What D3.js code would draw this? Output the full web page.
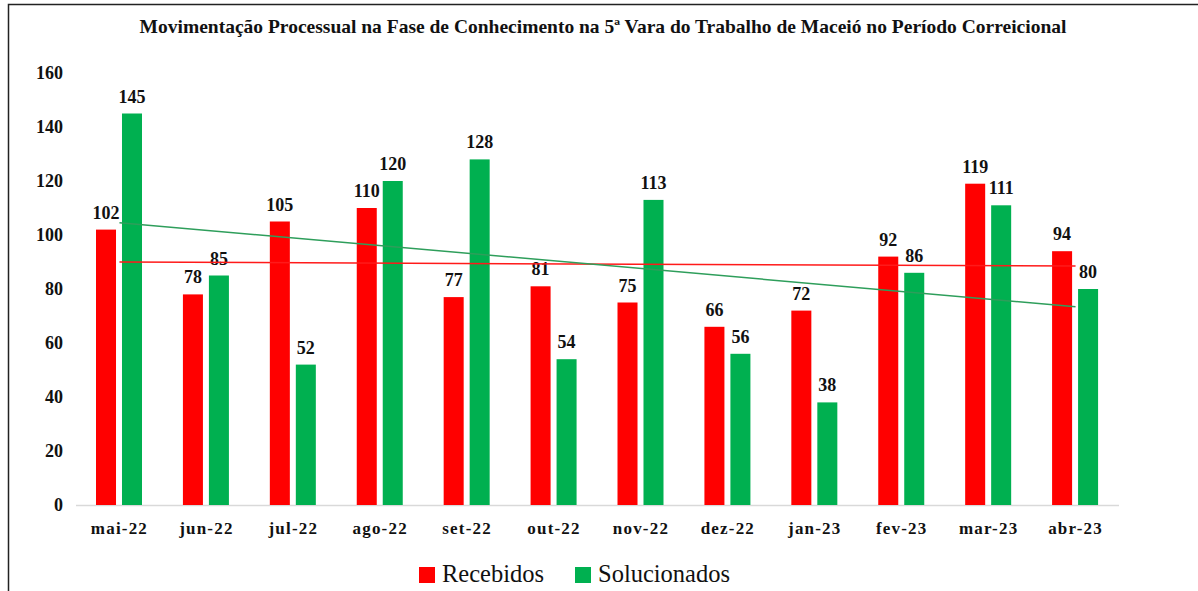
<!DOCTYPE html>
<html>
<head>
<meta charset="utf-8">
<script src="https://cdn.jsdelivr.net/npm/d3@7"></script>
<style>
  body { margin: 0; background: #fff; }
  svg { display: block; }
  svg text { font-family: "Liberation Serif", "Times New Roman", Times, "DejaVu Serif", serif; }
</style>
</head>
<body>
<div id="wrapper"></div>
<script>
const months = ["mai-22","jun-22","jul-22","ago-22","set-22","out-22","nov-22","dez-22","jan-23","fev-23","mar-23","abr-23"]
const recebidos = [102, 78, 105, 110, 77, 81, 75, 66, 72, 92, 119, 94]
const solucionados = [145, 85, 52, 120, 128, 54, 113, 56, 38, 86, 111, 80]
const seriesNames = ["Recebidos", "Solucionados"]
const seriesColors = ["#ff0000", "#00b050"]
const trendColors = ["#ff1a1a", "#2e9e5b"]
const yTicks = [0, 20, 40, 60, 80, 100, 120, 140, 160]

function drawChart() {
  const dimensions = {
    width: 1198,
    height: 591,
    margin: { top: 73, right: 79, bottom: 86, left: 76 },
  }
  dimensions.boundedWidth = dimensions.width - dimensions.margin.left - dimensions.margin.right
  dimensions.boundedHeight = dimensions.height - dimensions.margin.top - dimensions.margin.bottom

  const wrapper = d3.select("#wrapper")
    .append("svg")
      .attr("width", dimensions.width)
      .attr("height", dimensions.height)

  // frame (only left and top edges show in the picture)
  wrapper.append("rect")
    .attr("x", 8.5)
    .attr("y", 4.5)
    .attr("width", 1300)
    .attr("height", 700)
    .attr("fill", "none")
    .attr("stroke", "#222")
    .attr("stroke-width", 1.5)

  wrapper.append("text")
    .attr("x", 603)
    .attr("y", 33)
    .attr("text-anchor", "middle")
    .attr("font-weight", "bold")
    .attr("font-size", "19.5px")
    .attr("fill", "#111")
    .text("Movimentação Processual na Fase de Conhecimento na 5ª Vara do Trabalho de Maceió no Período Correicional")

  const bounds = wrapper.append("g")
    .attr("transform", `translate(${dimensions.margin.left},${dimensions.margin.top})`)

  const xScale = d3.scaleBand()
    .domain(months)
    .range([0, dimensions.boundedWidth])

  const xInner = d3.scaleBand()
    .domain(seriesNames)
    .range([20, 66])
    .paddingInner(0.23)

  const yScale = d3.scaleLinear()
    .domain([0, 160])
    .range([dimensions.boundedHeight, 0])

  // y tick labels
  bounds.append("g")
    .selectAll("text")
    .data(yTicks)
    .join("text")
      .attr("x", -13)
      .attr("y", d => yScale(d) + 5.5)
      .attr("text-anchor", "end")
      .attr("font-weight", "bold")
      .attr("font-size", "18px")
      .attr("fill", "#111")
      .text(d => d)

  // baseline
  bounds.append("line")
    .attr("x1", 0)
    .attr("x2", dimensions.boundedWidth)
    .attr("y1", yScale(0) + 0.5)
    .attr("y2", yScale(0) + 0.5)
    .attr("stroke", "#d9d9d9")
    .attr("stroke-width", 1.5)

  const table = months.map((m, i) => ({
    month: m,
    values: [recebidos[i], solucionados[i]],
  }))

  const groups = bounds.selectAll(".cat")
    .data(table)
    .join("g")
      .attr("class", "cat")
      .attr("transform", d => `translate(${xScale(d.month)},0)`)

  groups.selectAll("rect")
    .data(d => d.values.map((v, j) => ({ name: seriesNames[j], value: v, j })))
    .join("rect")
      .attr("x", d => xInner(d.name))
      .attr("y", d => yScale(d.value))
      .attr("width", xInner.bandwidth())
      .attr("height", d => yScale(0) - yScale(d.value))
      .attr("fill", d => seriesColors[d.j])

  // trend lines (least squares, as in Excel's linear trendline)
  const seriesData = [recebidos, solucionados]
  seriesData.forEach((vals, s) => {
    const xs = vals.map((v, i) => i + 1)
    const mx = d3.mean(xs)
    const my = d3.mean(vals)
    const slope = d3.sum(vals, (v, i) => (xs[i] - mx) * (v - my)) / d3.sum(xs, x => (x - mx) ** 2)
    const fit = x => my + slope * (x - mx)
    const first = 1, last = vals.length
    bounds.append("line")
      .attr("x1", xScale(months[0]) + xScale.bandwidth() / 2)
      .attr("x2", xScale(months[last - 1]) + xScale.bandwidth() / 2)
      .attr("y1", yScale(fit(first)))
      .attr("y2", yScale(fit(last)))
      .attr("stroke", trendColors[s])
      .attr("stroke-width", 1.5)
  })

  // value labels
  groups.selectAll("text.val")
    .data(d => d.values.map((v, j) => ({ name: seriesNames[j], value: v })))
    .join("text")
      .attr("class", "val")
      .attr("x", d => xInner(d.name) + xInner.bandwidth() / 2)
      .attr("y", d => yScale(d.value) - 11)
      .attr("text-anchor", "middle")
      .attr("font-weight", "bold")
      .attr("font-size", "18px")
      .attr("fill", "#111")
      .text(d => d.value)

  // category labels
  bounds.append("g")
    .selectAll("text")
    .data(months)
    .join("text")
      .attr("x", d => xScale(d) + xScale.bandwidth() / 2)
      .attr("y", yScale(0) + 29)
      .attr("text-anchor", "middle")
      .attr("font-weight", "bold")
      .attr("font-size", "17px")
      .attr("letter-spacing", "1.2px")
      .attr("fill", "#111")
      .text(d => d)

  // legend
  const legendX = [419, 575]
  const legend = wrapper.append("g")
  seriesNames.forEach((name, i) => {
    legend.append("rect")
      .attr("x", legendX[i])
      .attr("y", 567)
      .attr("width", 16)
      .attr("height", 16)
      .attr("fill", seriesColors[i])
    legend.append("text")
      .attr("x", legendX[i] + 23)
      .attr("y", 582)
      .attr("font-size", "24.5px")
      .attr("fill", "#111")
      .text(name)
  })
}

drawChart()
</script>
</body>
</html>
